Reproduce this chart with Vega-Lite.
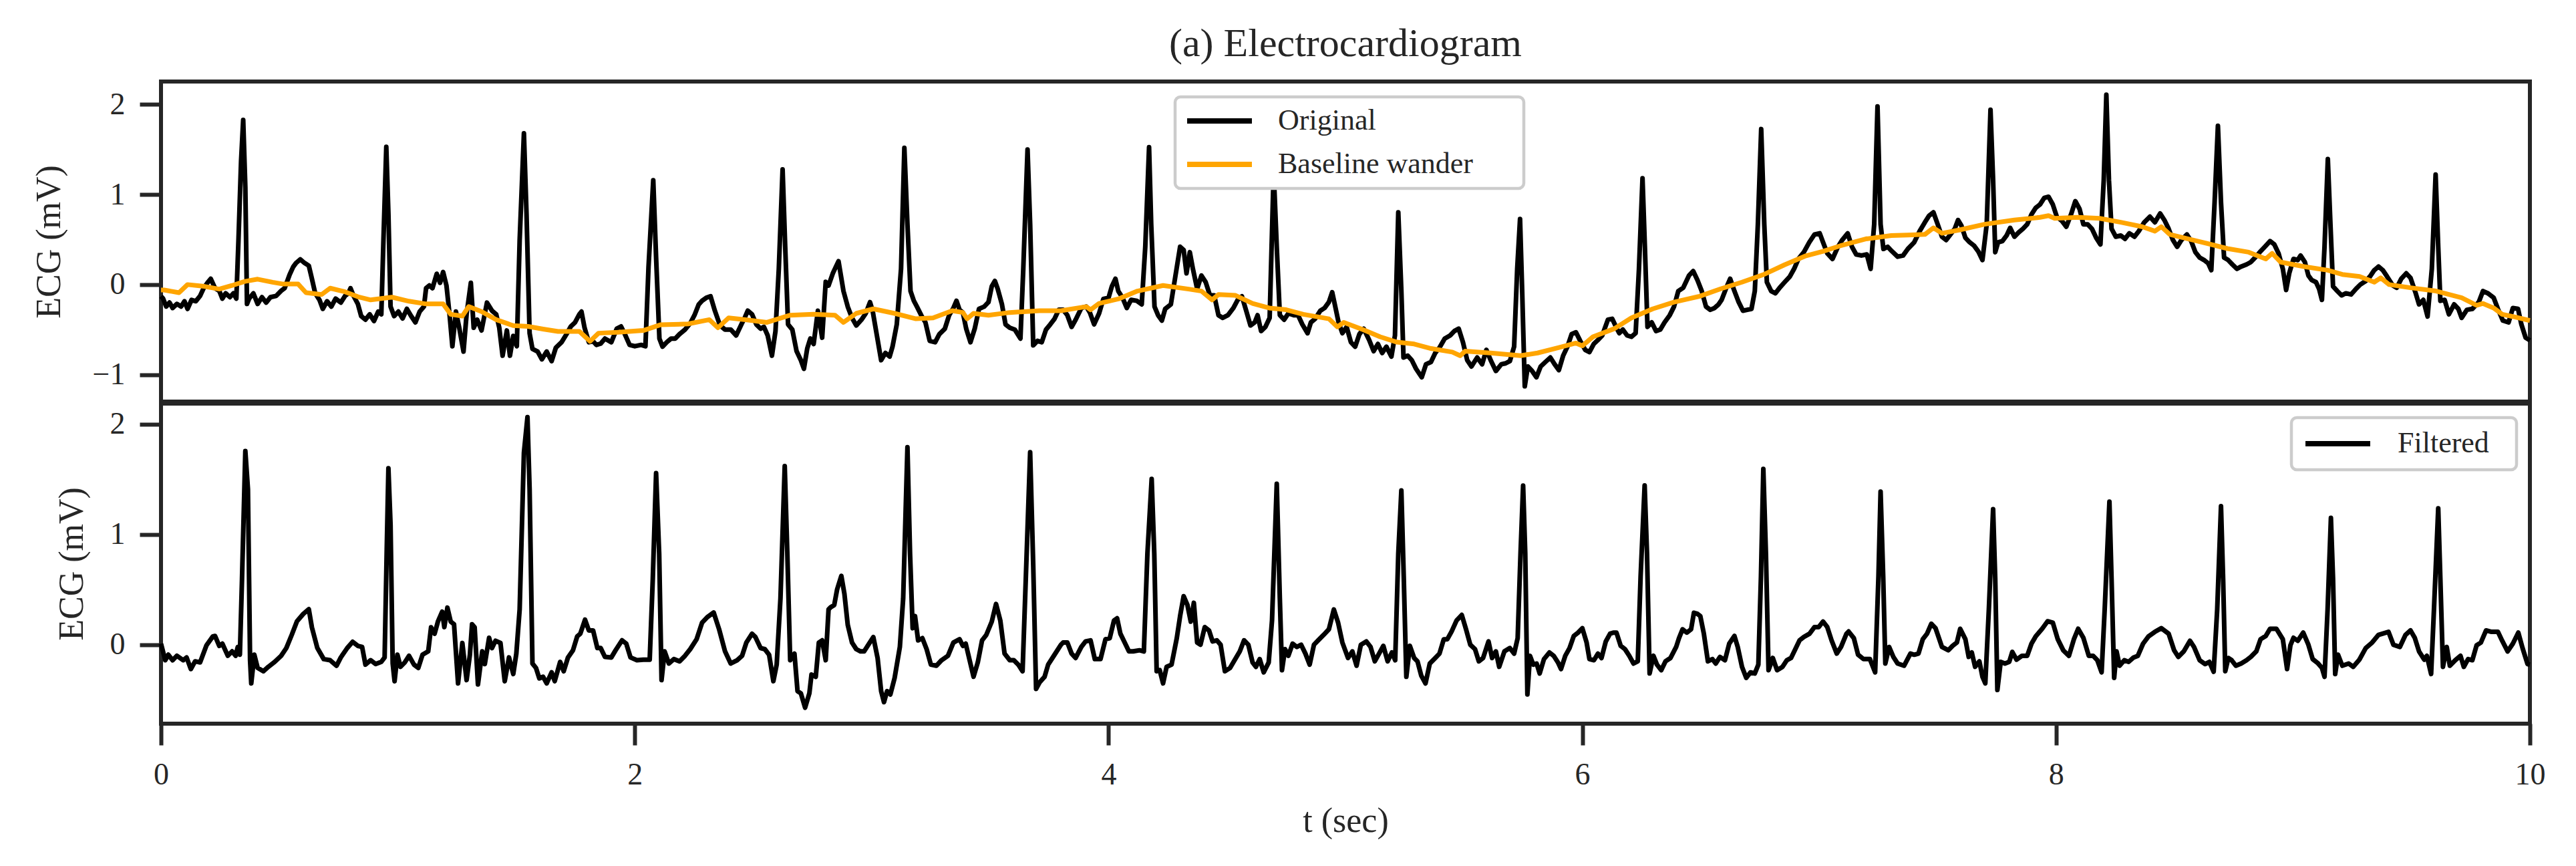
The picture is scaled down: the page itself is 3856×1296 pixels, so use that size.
{
  "$schema": "https://vega.github.io/schema/vega-lite/v6.json",
  "background": "white",
  "padding": {"left": 44, "top": 33, "right": 40, "bottom": 0},
  "spacing": -3,
  "datasets": {
    "original": [
      {"t":0,"v":-0.13},{"t":0.009,"v":-0.156},{"t":0.022,"v":-0.244},{"t":0.036,"v":-0.2},{"t":0.049,"v":-0.26},{"t":0.067,"v":-0.215},{"t":0.085,"v":-0.244},{"t":0.099,"v":-0.185},{"t":0.112,"v":-0.27},{"t":0.129,"v":-0.17},{"t":0.147,"v":-0.185},{"t":0.165,"v":-0.126},{"t":0.18,"v":-0.04},{"t":0.196,"v":0.02},{"t":0.21,"v":0.065},{"t":0.228,"v":-0.04},{"t":0.246,"v":-0.07},{"t":0.259,"v":-0.156},{"t":0.273,"v":-0.097},{"t":0.291,"v":-0.14},{"t":0.306,"v":-0.097},{"t":0.318,"v":-0.156},{"t":0.327,"v":0.49},{"t":0.338,"v":1.37},{"t":0.347,"v":1.83},{"t":0.356,"v":1.08},{"t":0.363,"v":-0.215},{"t":0.372,"v":-0.156},{"t":0.39,"v":-0.097},{"t":0.408,"v":-0.215},{"t":0.426,"v":-0.14},{"t":0.444,"v":-0.2},{"t":0.462,"v":-0.14},{"t":0.486,"v":-0.126},{"t":0.507,"v":-0.07},{"t":0.522,"v":-0.04},{"t":0.543,"v":0.11},{"t":0.558,"v":0.197},{"t":0.57,"v":0.24},{"t":0.588,"v":0.28},{"t":0.606,"v":0.24},{"t":0.624,"v":0.21},{"t":0.637,"v":0.065},{"t":0.651,"v":-0.097},{"t":0.669,"v":-0.17},{"t":0.683,"v":-0.27},{"t":0.701,"v":-0.185},{"t":0.719,"v":-0.244},{"t":0.737,"v":-0.156},{"t":0.759,"v":-0.2},{"t":0.777,"v":-0.126},{"t":0.791,"v":-0.097},{"t":0.8,"v":-0.04},{"t":0.813,"v":-0.126},{"t":0.831,"v":-0.215},{"t":0.845,"v":-0.35},{"t":0.863,"v":-0.39},{"t":0.881,"v":-0.33},{"t":0.899,"v":-0.405},{"t":0.917,"v":-0.3},{"t":0.93,"v":-0.33},{"t":0.939,"v":0.49},{"t":0.951,"v":1.53},{"t":0.96,"v":0.785},{"t":0.969,"v":-0.244},{"t":0.984,"v":-0.35},{"t":1.002,"v":-0.3},{"t":1.02,"v":-0.376},{"t":1.038,"v":-0.27},{"t":1.056,"v":-0.35},{"t":1.074,"v":-0.42},{"t":1.092,"v":-0.3},{"t":1.11,"v":-0.244},{"t":1.119,"v":-0.04},{"t":1.133,"v":-0.01},{"t":1.146,"v":-0.04},{"t":1.164,"v":0.12},{"t":1.178,"v":0.02},{"t":1.191,"v":0.14},{"t":1.205,"v":-0.01},{"t":1.218,"v":-0.33},{"t":1.23,"v":-0.685},{"t":1.245,"v":-0.3},{"t":1.259,"v":-0.48},{"t":1.277,"v":-0.744},{"t":1.29,"v":-0.33},{"t":1.308,"v":0.02},{"t":1.32,"v":-0.48},{"t":1.335,"v":-0.39},{"t":1.353,"v":-0.51},{"t":1.376,"v":-0.2},{"t":1.397,"v":-0.29},{"t":1.415,"v":-0.33},{"t":1.428,"v":-0.48},{"t":1.442,"v":-0.79},{"t":1.46,"v":-0.51},{"t":1.473,"v":-0.79},{"t":1.487,"v":-0.57},{"t":1.502,"v":-0.685},{"t":1.514,"v":0.49},{"t":1.532,"v":1.68},{"t":1.543,"v":0.785},{"t":1.556,"v":-0.54},{"t":1.568,"v":-0.715},{"t":1.59,"v":-0.744},{"t":1.608,"v":-0.83},{"t":1.628,"v":-0.744},{"t":1.649,"v":-0.85},{"t":1.667,"v":-0.7},{"t":1.691,"v":-0.64},{"t":1.712,"v":-0.55},{"t":1.73,"v":-0.465},{"t":1.748,"v":-0.42},{"t":1.766,"v":-0.33},{"t":1.775,"v":-0.3},{"t":1.788,"v":-0.48},{"t":1.806,"v":-0.64},{"t":1.824,"v":-0.63},{"t":1.838,"v":-0.67},{"t":1.856,"v":-0.656},{"t":1.874,"v":-0.6},{"t":1.901,"v":-0.64},{"t":1.924,"v":-0.49},{"t":1.942,"v":-0.465},{"t":1.958,"v":-0.55},{"t":1.978,"v":-0.67},{"t":2.0,"v":-0.685},{"t":2.027,"v":-0.67},{"t":2.045,"v":-0.685},{"t":2.058,"v":0.197},{"t":2.078,"v":1.16},{"t":2.09,"v":0.3},
      {"t":2.104,"v":-0.6},{"t":2.117,"v":-0.69},{"t":2.135,"v":-0.64},{"t":2.153,"v":-0.6},{"t":2.171,"v":-0.6},{"t":2.189,"v":-0.55},{"t":2.212,"v":-0.5},{"t":2.234,"v":-0.43},{"t":2.252,"v":-0.34},{"t":2.27,"v":-0.22},{"t":2.284,"v":-0.18},{"t":2.302,"v":-0.146},{"t":2.32,"v":-0.13},{"t":2.338,"v":-0.29},{"t":2.36,"v":-0.454},{"t":2.381,"v":-0.5},{"t":2.405,"v":-0.5},{"t":2.428,"v":-0.565},{"t":2.45,"v":-0.442},{"t":2.464,"v":-0.37},{"t":2.477,"v":-0.29},{"t":2.495,"v":-0.33},{"t":2.513,"v":-0.442},{"t":2.531,"v":-0.49},{"t":2.545,"v":-0.47},{"t":2.561,"v":-0.565},{"t":2.579,"v":-0.79},{"t":2.594,"v":-0.516},{"t":2.608,"v":0.175},{"t":2.624,"v":1.279},{"t":2.635,"v":0.42},{"t":2.647,"v":-0.442},{"t":2.665,"v":-0.5},{"t":2.683,"v":-0.74},{"t":2.701,"v":-0.84},{"t":2.714,"v":-0.935},{"t":2.728,"v":-0.71},{"t":2.741,"v":-0.6},{"t":2.755,"v":-0.66},{"t":2.773,"v":-0.29},{"t":2.791,"v":-0.59},{"t":2.806,"v":0.03},{"t":2.818,"v":-0.01},{"t":2.836,"v":0.125},{"t":2.86,"v":0.26},{"t":2.881,"v":-0.072},{"t":2.899,"v":-0.245},{"t":2.917,"v":-0.37},{"t":2.935,"v":-0.454},{"t":2.957,"v":-0.39},{"t":2.975,"v":-0.32},{"t":2.993,"v":-0.195},{"t":3.004,"v":-0.29},{"t":3.022,"v":-0.565},{"t":3.04,"v":-0.84},{"t":3.058,"v":-0.76},{"t":3.076,"v":-0.8},{"t":3.088,"v":-0.69},{"t":3.106,"v":-0.442},{"t":3.124,"v":0.175},{"t":3.138,"v":1.519},{"t":3.151,"v":0.67},{"t":3.164,"v":-0.072},{"t":3.178,"v":-0.18},{"t":3.191,"v":-0.245},{"t":3.209,"v":-0.34},{"t":3.227,"v":-0.42},{"t":3.245,"v":-0.625},{"t":3.268,"v":-0.64},{"t":3.286,"v":-0.55},{"t":3.309,"v":-0.49},{"t":3.327,"v":-0.34},{"t":3.345,"v":-0.26},{"t":3.358,"v":-0.18},{"t":3.371,"v":-0.28},{"t":3.385,"v":-0.31},{"t":3.399,"v":-0.49},{"t":3.417,"v":-0.64},{"t":3.435,"v":-0.49},{"t":3.453,"v":-0.27},{"t":3.475,"v":-0.245},{"t":3.493,"v":-0.195},{"t":3.507,"v":-0.02},{"t":3.52,"v":0.04},{"t":3.532,"v":-0.047},{"t":3.55,"v":-0.22},{"t":3.565,"v":-0.442},{"t":3.583,"v":-0.48},{"t":3.604,"v":-0.5},{"t":3.628,"v":-0.6},{"t":3.64,"v":0.175},{"t":3.658,"v":1.501},{"t":3.669,"v":0.67},{"t":3.682,"v":-0.675},{"t":3.7,"v":-0.625},{"t":3.718,"v":-0.64},{"t":3.736,"v":-0.5},{"t":3.754,"v":-0.442},{"t":3.772,"v":-0.38},{"t":3.79,"v":-0.28},{"t":3.808,"v":-0.28},{"t":3.826,"v":-0.34},{"t":3.844,"v":-0.47},{"t":3.861,"v":-0.39},{"t":3.885,"v":-0.26},{"t":3.906,"v":-0.245},{"t":3.921,"v":-0.31},{"t":3.939,"v":-0.442},{"t":3.96,"v":-0.32},{"t":3.978,"v":-0.16},{"t":4.0,"v":-0.146},{"t":4.014,"v":-0.02},{"t":4.029,"v":0.065},{"t":4.041,"v":-0.072},{"t":4.059,"v":-0.146},{"t":4.077,"v":-0.26},{"t":4.095,"v":-0.17},{"t":4.119,"v":-0.18},{"t":4.14,"v":-0.22},{"t":4.155,"v":0.42},{"t":4.171,"v":1.526},{"t":4.18,"v":0.67},{"t":4.194,"v":-0.245},{"t":4.209,"v":-0.34},{"t":4.225,"v":-0.4},{"t":4.239,"v":-0.27},{"t":4.263,"v":-0.22},{"t":4.281,"v":0.075},{"t":4.302,"v":0.42},{"t":4.317,"v":0.385},{"t":4.329,"v":0.125},{"t":4.343,"v":0.36},{"t":4.356,"v":0.175},{"t":4.374,"v":-0.047},{"t":4.392,"v":0.1},{"t":4.41,"v":0.027},{"t":4.428,"v":-0.12},{"t":4.446,"v":-0.12},{"t":4.464,"v":-0.34},{"t":4.482,"v":-0.37},{"t":4.504,"v":-0.34},{"t":4.527,"v":-0.26},{"t":4.545,"v":-0.17},{"t":4.563,"v":-0.13},{"t":4.581,"v":-0.29},{"t":4.599,"v":-0.454},{"t":4.617,"v":-0.42},{"t":4.629,"v":-0.34},{"t":4.644,"v":-0.516},{"t":4.662,"v":-0.47},{"t":4.68,"v":-0.37},{"t":4.697,"v":1.26},
      {"t":4.71,"v":0.42},{"t":4.723,"v":-0.34},{"t":4.741,"v":-0.39},{"t":4.759,"v":-0.32},{"t":4.782,"v":-0.34},{"t":4.8,"v":-0.34},{"t":4.818,"v":-0.442},{"t":4.84,"v":-0.54},{"t":4.854,"v":-0.42},{"t":4.872,"v":-0.38},{"t":4.894,"v":-0.29},{"t":4.912,"v":-0.26},{"t":4.93,"v":-0.195},{"t":4.944,"v":-0.085},{"t":4.957,"v":-0.245},{"t":4.971,"v":-0.42},{"t":4.987,"v":-0.54},{"t":5.005,"v":-0.47},{"t":5.023,"v":-0.64},{"t":5.041,"v":-0.69},{"t":5.059,"v":-0.55},{"t":5.077,"v":-0.49},{"t":5.1,"v":-0.615},{"t":5.119,"v":-0.74},{"t":5.137,"v":-0.66},{"t":5.155,"v":-0.76},{"t":5.173,"v":-0.69},{"t":5.194,"v":-0.8},{"t":5.209,"v":-0.565},{"t":5.223,"v":0.803},{"t":5.236,"v":-0.072},{"t":5.245,"v":-0.81},{"t":5.263,"v":-0.79},{"t":5.28,"v":-0.84},{"t":5.298,"v":-0.935},{"t":5.322,"v":-1.03},{"t":5.34,"v":-0.885},{"t":5.361,"v":-0.86},{"t":5.379,"v":-0.76},{"t":5.397,"v":-0.7},{"t":5.419,"v":-0.6},{"t":5.442,"v":-0.565},{"t":5.46,"v":-0.516},{"t":5.478,"v":-0.49},{"t":5.496,"v":-0.64},{"t":5.514,"v":-0.84},{"t":5.532,"v":-0.91},{"t":5.556,"v":-0.81},{"t":5.577,"v":-0.885},{"t":5.595,"v":-0.725},{"t":5.613,"v":-0.84},{"t":5.635,"v":-0.96},{"t":5.658,"v":-0.885},{"t":5.676,"v":-0.875},{"t":5.694,"v":-0.85},{"t":5.712,"v":-0.69},{"t":5.725,"v":0.175},{"t":5.737,"v":0.729},{"t":5.746,"v":-0.072},{"t":5.757,"v":-1.13},{"t":5.77,"v":-0.91},{"t":5.788,"v":-0.96},{"t":5.806,"v":-1.03},{"t":5.824,"v":-0.91},{"t":5.844,"v":-0.86},{"t":5.865,"v":-0.81},{"t":5.883,"v":-0.885},{"t":5.901,"v":-0.95},{"t":5.919,"v":-0.79},{"t":5.937,"v":-0.69},{"t":5.955,"v":-0.55},{"t":5.973,"v":-0.53},{"t":5.991,"v":-0.625},{"t":6.012,"v":-0.725},{"t":6.03,"v":-0.75},{"t":6.048,"v":-0.66},{"t":6.066,"v":-0.615},{"t":6.084,"v":-0.565},{"t":6.108,"v":-0.39},{"t":6.126,"v":-0.38},{"t":6.144,"v":-0.48},{"t":6.156,"v":-0.54},{"t":6.171,"v":-0.5},{"t":6.189,"v":-0.565},{"t":6.207,"v":-0.58},{"t":6.225,"v":-0.54},{"t":6.239,"v":0.175},{"t":6.254,"v":1.181},{"t":6.264,"v":0.42},{"t":6.275,"v":-0.47},{"t":6.293,"v":-0.42},{"t":6.311,"v":-0.516},{"t":6.329,"v":-0.5},{"t":6.347,"v":-0.42},{"t":6.369,"v":-0.34},{"t":6.387,"v":-0.245},{"t":6.405,"v":-0.072},{"t":6.426,"v":-0.035},{"t":6.45,"v":0.1},{"t":6.468,"v":0.15},{"t":6.486,"v":0.05},{"t":6.504,"v":-0.072},{"t":6.522,"v":-0.245},{"t":6.54,"v":-0.28},{"t":6.558,"v":-0.26},{"t":6.575,"v":-0.22},{"t":6.588,"v":-0.17},{"t":6.606,"v":-0.047},{"t":6.624,"v":0.065},{"t":6.642,"v":-0.072},{"t":6.66,"v":-0.195},{"t":6.678,"v":-0.29},{"t":6.696,"v":-0.28},{"t":6.714,"v":-0.27},{"t":6.728,"v":-0.072},{"t":6.741,"v":0.67},{"t":6.755,"v":1.728},{"t":6.768,"v":0.67},{"t":6.779,"v":0.027},{"t":6.797,"v":-0.072},{"t":6.815,"v":-0.097},{"t":6.833,"v":-0.035},{"t":6.854,"v":0.027},{"t":6.876,"v":0.09},{"t":6.894,"v":0.175},{"t":6.912,"v":0.285},{"t":6.935,"v":0.36},{"t":6.958,"v":0.47},{"t":6.98,"v":0.557},{"t":7.002,"v":0.57},{"t":7.016,"v":0.47},{"t":7.034,"v":0.347},{"t":7.056,"v":0.285},{"t":7.079,"v":0.42},{"t":7.097,"v":0.495},{"t":7.12,"v":0.57},{"t":7.138,"v":0.42},{"t":7.156,"v":0.335},{"t":7.178,"v":0.323},{"t":7.201,"v":0.335},{"t":7.217,"v":0.175},{"t":7.232,"v":0.67},{"t":7.246,"v":1.98},{"t":7.259,"v":0.67},{"t":7.271,"v":0.396},{"t":7.289,"v":0.42},{"t":7.307,"v":0.37},{"t":7.331,"v":0.31},{"t":7.354,"v":0.323},
      {"t":7.374,"v":0.396},{"t":7.401,"v":0.47},{"t":7.424,"v":0.594},{"t":7.446,"v":0.692},{"t":7.464,"v":0.766},{"t":7.482,"v":0.803},{"t":7.5,"v":0.67},{"t":7.518,"v":0.532},{"t":7.536,"v":0.495},{"t":7.554,"v":0.557},{"t":7.572,"v":0.62},{"t":7.586,"v":0.717},{"t":7.6,"v":0.655},{"t":7.617,"v":0.52},{"t":7.635,"v":0.47},{"t":7.653,"v":0.434},{"t":7.671,"v":0.37},{"t":7.689,"v":0.273},{"t":7.707,"v":0.67},{"t":7.723,"v":1.943},{"t":7.734,"v":1.16},{"t":7.743,"v":0.36},{"t":7.755,"v":0.47},{"t":7.773,"v":0.483},{"t":7.791,"v":0.545},{"t":7.806,"v":0.63},{"t":7.824,"v":0.532},{"t":7.842,"v":0.58},{"t":7.86,"v":0.62},{"t":7.878,"v":0.67},{"t":7.896,"v":0.78},{"t":7.914,"v":0.853},{"t":7.932,"v":0.89},{"t":7.95,"v":0.964},{"t":7.968,"v":0.976},{"t":7.986,"v":0.89},{"t":8.003,"v":0.754},{"t":8.025,"v":0.705},{"t":8.043,"v":0.643},{"t":8.063,"v":0.78},{"t":8.081,"v":0.927},{"t":8.099,"v":0.84},{"t":8.115,"v":0.67},{"t":8.133,"v":0.67},{"t":8.151,"v":0.62},{"t":8.169,"v":0.52},{"t":8.187,"v":0.446},{"t":8.201,"v":1.16},{"t":8.212,"v":2.11},{"t":8.223,"v":1.16},{"t":8.234,"v":0.62},{"t":8.252,"v":0.532},{"t":8.273,"v":0.545},{"t":8.291,"v":0.508},{"t":8.309,"v":0.57},{"t":8.331,"v":0.532},{"t":8.349,"v":0.594},{"t":8.372,"v":0.692},{"t":8.396,"v":0.754},{"t":8.417,"v":0.692},{"t":8.439,"v":0.79},{"t":8.457,"v":0.717},{"t":8.475,"v":0.62},{"t":8.493,"v":0.495},{"t":8.511,"v":0.42},{"t":8.529,"v":0.495},{"t":8.552,"v":0.557},{"t":8.57,"v":0.483},{"t":8.588,"v":0.36},{"t":8.606,"v":0.3},{"t":8.624,"v":0.273},{"t":8.642,"v":0.236},{"t":8.655,"v":0.16},{"t":8.669,"v":0.914},{"t":8.683,"v":1.765},{"t":8.696,"v":0.914},{"t":8.709,"v":0.3},{"t":8.726,"v":0.273},{"t":8.744,"v":0.224},{"t":8.763,"v":0.175},{"t":8.781,"v":0.2},{"t":8.804,"v":0.224},{"t":8.822,"v":0.25},{"t":8.84,"v":0.3},{"t":8.863,"v":0.37},{"t":8.881,"v":0.42},{"t":8.903,"v":0.483},{"t":8.921,"v":0.446},{"t":8.939,"v":0.347},{"t":8.957,"v":0.175},{"t":8.971,"v":-0.06},{"t":8.984,"v":0.125},{"t":9.002,"v":0.285},{"t":9.02,"v":0.273},{"t":9.032,"v":0.323},{"t":9.05,"v":0.25},{"t":9.065,"v":0.1},{"t":9.079,"v":0.05},{"t":9.097,"v":0.027},{"t":9.11,"v":-0.047},{"t":9.122,"v":-0.17},{"t":9.133,"v":0.42},{"t":9.147,"v":1.395},{"t":9.158,"v":0.67},{"t":9.169,"v":-0.02},{"t":9.187,"v":-0.072},{"t":9.205,"v":-0.12},{"t":9.223,"v":-0.097},{"t":9.245,"v":-0.11},{"t":9.266,"v":-0.047},{"t":9.284,"v":0},{"t":9.307,"v":0.04},{"t":9.325,"v":0.09},{"t":9.343,"v":0.16},{"t":9.361,"v":0.2},{"t":9.379,"v":0.16},{"t":9.397,"v":0.09},{"t":9.421,"v":-0.01},{"t":9.438,"v":-0.035},{"t":9.457,"v":0.065},{"t":9.478,"v":0.125},{"t":9.496,"v":0.075},{"t":9.518,"v":-0.097},{"t":9.532,"v":-0.22},{"t":9.55,"v":-0.17},{"t":9.568,"v":-0.355},{"t":9.586,"v":0.175},{"t":9.602,"v":1.223},{"t":9.613,"v":0.42},{"t":9.622,"v":-0.18},{"t":9.64,"v":-0.17},{"t":9.658,"v":-0.33},{"t":9.68,"v":-0.22},{"t":9.698,"v":-0.27},{"t":9.712,"v":-0.37},{"t":9.734,"v":-0.28},{"t":9.757,"v":-0.27},{"t":9.784,"v":-0.195},{"t":9.802,"v":-0.072},{"t":9.823,"v":-0.097},{"t":9.847,"v":-0.146},{"t":9.865,"v":-0.27},{"t":9.886,"v":-0.4},{"t":9.91,"v":-0.42},{"t":9.928,"v":-0.26},{"t":9.95,"v":-0.27},{"t":9.964,"v":-0.442},{"t":9.982,"v":-0.59},{"t":10.0,"v":-0.62}
    ],
    "baseline": [
      {"t":0,"v":-0.06},{"t":0.013,"v":-0.06},{"t":0.076,"v":-0.09},{"t":0.112,"v":0.0},{"t":0.183,"v":-0.02},{"t":0.246,"v":-0.05},{"t":0.3,"v":-0.01},{"t":0.354,"v":0.035},{"t":0.408,"v":0.06},{"t":0.471,"v":0.026},{"t":0.516,"v":0.006},{"t":0.579,"v":0.006},{"t":0.612,"v":-0.09},{"t":0.678,"v":-0.11},{"t":0.714,"v":-0.04},{"t":0.777,"v":-0.08},{"t":0.831,"v":-0.135},{"t":0.885,"v":-0.17},{"t":0.975,"v":-0.14},{"t":1.047,"v":-0.185},{"t":1.119,"v":-0.215},{"t":1.191,"v":-0.215},{"t":1.223,"v":-0.33},{"t":1.272,"v":-0.35},{"t":1.299,"v":-0.244},{"t":1.353,"v":-0.3},{"t":1.415,"v":-0.39},{"t":1.487,"v":-0.456},{"t":1.55,"v":-0.465},{"t":1.613,"v":-0.494},{"t":1.676,"v":-0.52},{"t":1.766,"v":-0.52},{"t":1.811,"v":-0.63},{"t":1.847,"v":-0.54},{"t":1.928,"v":-0.53},{"t":2.036,"v":-0.51},{"t":2.108,"v":-0.447},{"t":2.225,"v":-0.437},{"t":2.315,"v":-0.39},{"t":2.351,"v":-0.48},{"t":2.396,"v":-0.37},{"t":2.468,"v":-0.39},{"t":2.558,"v":-0.42},{"t":2.656,"v":-0.34},{"t":2.755,"v":-0.33},{"t":2.845,"v":-0.34},{"t":2.881,"v":-0.42},{"t":2.935,"v":-0.32},{"t":3.007,"v":-0.27},{"t":3.097,"v":-0.32},{"t":3.187,"v":-0.38},{"t":3.259,"v":-0.37},{"t":3.34,"v":-0.29},{"t":3.385,"v":-0.31},{"t":3.403,"v":-0.38},{"t":3.43,"v":-0.32},{"t":3.493,"v":-0.34},{"t":3.583,"v":-0.31},{"t":3.709,"v":-0.29},{"t":3.799,"v":-0.29},{"t":3.906,"v":-0.245},{"t":3.924,"v":-0.28},{"t":3.96,"v":-0.21},{"t":4.041,"v":-0.16},{"t":4.122,"v":-0.072},{"t":4.23,"v":-0.01},{"t":4.338,"v":-0.05},{"t":4.392,"v":-0.072},{"t":4.437,"v":-0.17},{"t":4.464,"v":-0.11},{"t":4.536,"v":-0.12},{"t":4.608,"v":-0.21},{"t":4.678,"v":-0.26},{"t":4.75,"v":-0.28},{"t":4.822,"v":-0.33},{"t":4.93,"v":-0.38},{"t":4.966,"v":-0.47},{"t":4.993,"v":-0.42},{"t":5.074,"v":-0.5},{"t":5.146,"v":-0.58},{"t":5.218,"v":-0.64},{"t":5.29,"v":-0.66},{"t":5.361,"v":-0.71},{"t":5.451,"v":-0.75},{"t":5.484,"v":-0.79},{"t":5.505,"v":-0.74},{"t":5.613,"v":-0.76},{"t":5.739,"v":-0.79},{"t":5.811,"v":-0.76},{"t":5.901,"v":-0.7},{"t":5.973,"v":-0.65},{"t":6.0,"v":-0.68},{"t":6.045,"v":-0.58},{"t":6.135,"v":-0.49},{"t":6.207,"v":-0.37},{"t":6.297,"v":-0.27},{"t":6.387,"v":-0.195},{"t":6.495,"v":-0.13},{"t":6.584,"v":-0.047},{"t":6.674,"v":0.027},{"t":6.764,"v":0.11},{"t":6.854,"v":0.22},{"t":6.944,"v":0.32},{"t":7.016,"v":0.37},{"t":7.088,"v":0.43},{"t":7.196,"v":0.507},{"t":7.304,"v":0.545},{"t":7.374,"v":0.55},{"t":7.446,"v":0.557},{"t":7.482,"v":0.63},{"t":7.518,"v":0.57},{"t":7.59,"v":0.606},{"t":7.698,"v":0.67},{"t":7.824,"v":0.717},{"t":7.932,"v":0.747},{"t":7.968,"v":0.766},{"t":7.994,"v":0.736},{"t":8.093,"v":0.747},{"t":8.183,"v":0.736},{"t":8.273,"v":0.692},{"t":8.363,"v":0.643},{"t":8.417,"v":0.594},{"t":8.444,"v":0.643},{"t":8.48,"v":0.557},{"t":8.597,"v":0.483},{"t":8.723,"v":0.4},{"t":8.813,"v":0.36},{"t":8.885,"v":0.285},{"t":8.912,"v":0.347},{"t":8.948,"v":0.25},{"t":9.047,"v":0.2},{"t":9.146,"v":0.16},{"t":9.208,"v":0.113},{"t":9.281,"v":0.09},{"t":9.343,"v":0.027},{"t":9.37,"v":0.075},{"t":9.406,"v":0.0},{"t":9.496,"v":-0.035},{"t":9.604,"v":-0.072},{"t":9.712,"v":-0.146},{"t":9.775,"v":-0.23},{"t":9.802,"v":-0.21},{"t":9.847,"v":-0.26},{"t":9.883,"v":-0.33},{"t":9.928,"v":-0.355},{"t":10.0,"v":-0.4}
    ],
    "filtered": [
      {"t":0,"v":0.01},{"t":0.018,"v":-0.14},{"t":0.031,"v":-0.09},{"t":0.049,"v":-0.14},{"t":0.067,"v":-0.1},{"t":0.094,"v":-0.14},{"t":0.108,"v":-0.115},{"t":0.126,"v":-0.22},{"t":0.144,"v":-0.15},{"t":0.165,"v":-0.16},{"t":0.192,"v":-0.005},{"t":0.219,"v":0.076},{"t":0.228,"v":0.08},{"t":0.246,"v":-0.01},{"t":0.259,"v":0.01},{"t":0.282,"v":-0.1},{"t":0.3,"v":-0.06},{"t":0.315,"v":-0.1},{"t":0.324,"v":-0.02},{"t":0.333,"v":-0.09},{"t":0.342,"v":0.595},{"t":0.356,"v":1.755},{"t":0.367,"v":1.41},{"t":0.376,"v":-0.14},{"t":0.381,"v":-0.35},{"t":0.394,"v":-0.09},{"t":0.408,"v":-0.21},{"t":0.432,"v":-0.24},{"t":0.453,"v":-0.2},{"t":0.48,"v":-0.155},{"t":0.507,"v":-0.1},{"t":0.529,"v":-0.03},{"t":0.552,"v":0.09},{"t":0.574,"v":0.213},{"t":0.601,"v":0.28},{"t":0.624,"v":0.322},{"t":0.637,"v":0.158},{"t":0.66,"v":-0.03},{"t":0.687,"v":-0.13},{"t":0.714,"v":-0.14},{"t":0.741,"v":-0.19},{"t":0.759,"v":-0.115},{"t":0.786,"v":-0.03},{"t":0.809,"v":0.027},{"t":0.831,"v":-0.01},{"t":0.849,"v":-0.02},{"t":0.863,"v":-0.18},{"t":0.885,"v":-0.14},{"t":0.906,"v":-0.175},{"t":0.93,"v":-0.155},{"t":0.944,"v":-0.115},{"t":0.953,"v":0.868},{"t":0.96,"v":1.599},{"t":0.969,"v":1.086},{"t":0.978,"v":-0.17},{"t":0.986,"v":-0.33},{"t":0.998,"v":-0.09},{"t":1.011,"v":-0.2},{"t":1.029,"v":-0.16},{"t":1.047,"v":-0.1},{"t":1.068,"v":-0.18},{"t":1.086,"v":-0.21},{"t":1.104,"v":-0.09},{"t":1.128,"v":-0.06},{"t":1.14,"v":0.158},{"t":1.155,"v":0.1},{"t":1.169,"v":0.21},{"t":1.187,"v":0.3},{"t":1.196,"v":0.16},{"t":1.209,"v":0.336},{"t":1.223,"v":0.21},{"t":1.237,"v":0.186},{"t":1.254,"v":-0.35},{"t":1.272,"v":0.016},{"t":1.29,"v":-0.32},{"t":1.304,"v":-0.09},{"t":1.313,"v":0.186},{"t":1.324,"v":0.158},{"t":1.338,"v":-0.36},{"t":1.356,"v":-0.06},{"t":1.367,"v":-0.175},{"t":1.385,"v":0.063},{"t":1.397,"v":-0.03},{"t":1.412,"v":0.036},{"t":1.433,"v":0.016},{"t":1.451,"v":-0.33},{"t":1.469,"v":-0.115},{"t":1.487,"v":-0.265},{"t":1.5,"v":-0.08},{"t":1.514,"v":0.32},{"t":1.532,"v":1.74},{"t":1.547,"v":2.063},{"t":1.556,"v":1.41},{"t":1.568,"v":-0.17},{"t":1.583,"v":-0.21},{"t":1.597,"v":-0.305},{"t":1.613,"v":-0.29},{"t":1.628,"v":-0.35},{"t":1.649,"v":-0.25},{"t":1.662,"v":-0.33},{"t":1.685,"v":-0.155},{"t":1.7,"v":-0.24},{"t":1.718,"v":-0.115},{"t":1.739,"v":-0.05},{"t":1.757,"v":0.076},{"t":1.77,"v":0.1},{"t":1.79,"v":0.227},{"t":1.806,"v":0.13},{"t":1.824,"v":0.13},{"t":1.842,"v":-0.03},{"t":1.856,"v":-0.03},{"t":1.874,"v":-0.11},{"t":1.901,"v":-0.115},{"t":1.919,"v":-0.05},{"t":1.946,"v":0.04},{"t":1.964,"v":0.01},{"t":1.982,"v":-0.115},{"t":2.009,"v":-0.14},{"t":2.036,"v":-0.135},{"t":2.063,"v":-0.135},{"t":2.076,"v":0.595},{"t":2.09,"v":1.555},{"t":2.103,"v":0.825},{"t":2.113,"v":-0.32},
      {"t":2.126,"v":-0.06},{"t":2.144,"v":-0.17},{"t":2.165,"v":-0.13},{"t":2.189,"v":-0.15},{"t":2.212,"v":-0.1},{"t":2.234,"v":-0.04},{"t":2.261,"v":0.05},{"t":2.284,"v":0.2},{"t":2.306,"v":0.25},{"t":2.333,"v":0.292},{"t":2.356,"v":0.14},{"t":2.381,"v":-0.06},{"t":2.405,"v":-0.17},{"t":2.432,"v":-0.14},{"t":2.453,"v":-0.1},{"t":2.471,"v":0.02},{"t":2.495,"v":0.1},{"t":2.509,"v":0.07},{"t":2.531,"v":-0.03},{"t":2.549,"v":-0.04},{"t":2.567,"v":-0.09},{"t":2.585,"v":-0.33},{"t":2.599,"v":-0.18},{"t":2.615,"v":0.42},{"t":2.633,"v":1.619},{"t":2.644,"v":0.825},{"t":2.656,"v":-0.14},{"t":2.674,"v":-0.08},{"t":2.687,"v":-0.42},{"t":2.701,"v":-0.44},{"t":2.719,"v":-0.57},{"t":2.737,"v":-0.44},{"t":2.746,"v":-0.27},{"t":2.764,"v":-0.29},{"t":2.777,"v":0.02},{"t":2.791,"v":0.04},{"t":2.806,"v":-0.14},{"t":2.818,"v":0.32},{"t":2.827,"v":0.34},{"t":2.842,"v":0.36},{"t":2.854,"v":0.5},{"t":2.872,"v":0.624},{"t":2.885,"v":0.46},{"t":2.899,"v":0.18},{"t":2.917,"v":0.02},{"t":2.935,"v":-0.04},{"t":2.953,"v":-0.06},{"t":2.968,"v":-0.06},{"t":2.986,"v":0.0},{"t":3.007,"v":0.07},{"t":3.025,"v":-0.12},{"t":3.04,"v":-0.42},{"t":3.052,"v":-0.52},{"t":3.065,"v":-0.42},{"t":3.079,"v":-0.45},{"t":3.097,"v":-0.3},{"t":3.119,"v":-0.02},{"t":3.133,"v":0.42},{"t":3.151,"v":1.79},{"t":3.162,"v":0.825},{"t":3.173,"v":0.15},{"t":3.183,"v":0.26},{"t":3.196,"v":0.04},{"t":3.214,"v":0.06},{"t":3.232,"v":-0.04},{"t":3.25,"v":-0.18},{"t":3.273,"v":-0.19},{"t":3.295,"v":-0.14},{"t":3.322,"v":-0.1},{"t":3.345,"v":0.02},{"t":3.371,"v":0.05},{"t":3.385,"v":-0.01},{"t":3.397,"v":0.01},{"t":3.43,"v":-0.29},{"t":3.448,"v":-0.16},{"t":3.466,"v":0.04},{"t":3.484,"v":0.09},{"t":3.507,"v":0.21},{"t":3.525,"v":0.37},{"t":3.543,"v":0.22},{"t":3.561,"v":-0.08},{"t":3.583,"v":-0.14},{"t":3.6,"v":-0.14},{"t":3.619,"v":-0.18},{"t":3.637,"v":-0.24},{"t":3.651,"v":0.62},{"t":3.669,"v":1.744},{"t":3.682,"v":0.72},{"t":3.694,"v":-0.4},{"t":3.709,"v":-0.34},{"t":3.73,"v":-0.29},{"t":3.745,"v":-0.18},{"t":3.772,"v":-0.09},{"t":3.799,"v":0.0},{"t":3.808,"v":0.02},{"t":3.826,"v":0.02},{"t":3.844,"v":-0.08},{"t":3.861,"v":-0.12},{"t":3.885,"v":-0.02},{"t":3.903,"v":0.03},{"t":3.924,"v":0.04},{"t":3.942,"v":-0.13},{"t":3.966,"v":-0.13},{"t":3.987,"v":0.05},{"t":4.005,"v":0.06},{"t":4.023,"v":0.22},{"t":4.036,"v":0.24},{"t":4.05,"v":0.1},{"t":4.068,"v":0.02},{"t":4.086,"v":-0.06},{"t":4.104,"v":-0.06},{"t":4.131,"v":-0.05},{"t":4.149,"v":-0.06},{"t":4.164,"v":0.825},{"t":4.182,"v":1.502},{"t":4.193,"v":0.825},{"t":4.203,"v":-0.24},{"t":4.216,"v":-0.23},{"t":4.23,"v":-0.35},{"t":4.245,"v":-0.2},{"t":4.266,"v":-0.18},{"t":4.288,"v":0.06},{"t":4.302,"v":0.26},{"t":4.317,"v":0.44},{"t":4.333,"v":0.36},{"t":4.347,"v":0.21},{"t":4.36,"v":0.38},{"t":4.374,"v":0.02},{"t":4.388,"v":0.0},{"t":4.406,"v":0.16},{"t":4.424,"v":0.13},{"t":4.439,"v":0.03},{"t":4.457,"v":0.04},{"t":4.473,"v":0.0},{"t":4.491,"v":-0.24},{"t":4.513,"v":-0.21},{"t":4.532,"v":-0.14},{"t":4.554,"v":-0.06},{"t":4.572,"v":0.04},{"t":4.59,"v":0.0},{"t":4.608,"v":-0.16},{"t":4.622,"v":-0.2},{"t":4.638,"v":-0.13},{"t":4.655,"v":-0.25},{"t":4.676,"v":-0.16},{"t":4.69,"v":0.22},{"t":4.71,"v":1.458},
      {"t":4.723,"v":0.42},{"t":4.732,"v":-0.23},{"t":4.745,"v":-0.04},{"t":4.759,"v":-0.1},{"t":4.777,"v":0.01},{"t":4.795,"v":-0.02},{"t":4.813,"v":0.0},{"t":4.831,"v":-0.08},{"t":4.849,"v":-0.18},{"t":4.867,"v":0.0},{"t":4.885,"v":0.04},{"t":4.908,"v":0.09},{"t":4.93,"v":0.14},{"t":4.951,"v":0.32},{"t":4.969,"v":0.2},{"t":4.987,"v":0.02},{"t":5.011,"v":-0.12},{"t":5.029,"v":-0.06},{"t":5.047,"v":-0.19},{"t":5.065,"v":0.0},{"t":5.088,"v":0.03},{"t":5.106,"v":-0.02},{"t":5.124,"v":-0.15},{"t":5.142,"v":-0.08},{"t":5.16,"v":-0.01},{"t":5.178,"v":-0.15},{"t":5.196,"v":-0.07},{"t":5.21,"v":-0.14},{"t":5.223,"v":0.825},{"t":5.236,"v":1.398},{"t":5.246,"v":0.62},{"t":5.257,"v":-0.29},{"t":5.272,"v":-0.01},{"t":5.29,"v":-0.12},{"t":5.304,"v":-0.15},{"t":5.32,"v":-0.28},{"t":5.338,"v":-0.35},{"t":5.356,"v":-0.17},{"t":5.379,"v":-0.12},{"t":5.397,"v":-0.08},{"t":5.415,"v":0.05},{"t":5.43,"v":0.05},{"t":5.448,"v":0.12},{"t":5.469,"v":0.22},{"t":5.491,"v":0.27},{"t":5.509,"v":0.14},{"t":5.527,"v":0.0},{"t":5.547,"v":-0.04},{"t":5.563,"v":-0.15},{"t":5.581,"v":-0.12},{"t":5.604,"v":0.03},{"t":5.619,"v":-0.12},{"t":5.635,"v":-0.06},{"t":5.649,"v":-0.2},{"t":5.671,"v":-0.06},{"t":5.694,"v":-0.03},{"t":5.712,"v":-0.08},{"t":5.727,"v":0.06},{"t":5.739,"v":0.825},{"t":5.75,"v":1.442},{"t":5.759,"v":0.825},{"t":5.768,"v":-0.45},{"t":5.779,"v":-0.1},{"t":5.793,"v":-0.18},{"t":5.807,"v":-0.17},{"t":5.82,"v":-0.26},{"t":5.838,"v":-0.13},{"t":5.861,"v":-0.07},{"t":5.879,"v":-0.1},{"t":5.897,"v":-0.16},{"t":5.91,"v":-0.22},{"t":5.928,"v":-0.1},{"t":5.946,"v":-0.03},{"t":5.964,"v":0.08},{"t":5.982,"v":0.11},{"t":6.0,"v":0.15},{"t":6.018,"v":0.02},{"t":6.03,"v":-0.13},{"t":6.049,"v":-0.14},{"t":6.066,"v":-0.08},{"t":6.081,"v":-0.12},{"t":6.099,"v":0.03},{"t":6.117,"v":0.1},{"t":6.131,"v":0.11},{"t":6.144,"v":0.11},{"t":6.162,"v":-0.01},{"t":6.18,"v":-0.04},{"t":6.198,"v":-0.1},{"t":6.216,"v":-0.17},{"t":6.234,"v":-0.15},{"t":6.246,"v":0.62},{"t":6.263,"v":1.444},{"t":6.273,"v":0.825},{"t":6.284,"v":-0.26},{"t":6.3,"v":-0.1},{"t":6.315,"v":-0.18},{"t":6.333,"v":-0.23},{"t":6.351,"v":-0.15},{"t":6.372,"v":-0.12},{"t":6.396,"v":-0.02},{"t":6.408,"v":0.06},{"t":6.423,"v":0.14},{"t":6.441,"v":0.11},{"t":6.459,"v":0.14},{"t":6.471,"v":0.29},{"t":6.486,"v":0.28},{"t":6.498,"v":0.26},{"t":6.513,"v":0.1},{"t":6.53,"v":-0.15},{"t":6.549,"v":-0.13},{"t":6.563,"v":-0.17},{"t":6.581,"v":-0.11},{"t":6.602,"v":-0.14},{"t":6.62,"v":0.01},{"t":6.642,"v":0.08},{"t":6.656,"v":-0.02},{"t":6.674,"v":-0.2},{"t":6.692,"v":-0.3},{"t":6.71,"v":-0.25},{"t":6.728,"v":-0.26},{"t":6.743,"v":-0.18},{"t":6.754,"v":0.62},{"t":6.764,"v":1.593},{"t":6.775,"v":0.825},{"t":6.786,"v":-0.23},{"t":6.804,"v":-0.12},{"t":6.822,"v":-0.23},{"t":6.845,"v":-0.2},{"t":6.863,"v":-0.14},{"t":6.881,"v":-0.12},{"t":6.899,"v":-0.04},{"t":6.917,"v":0.04},{"t":6.935,"v":0.07},{"t":6.959,"v":0.1},{"t":6.98,"v":0.16},{"t":6.998,"v":0.16},{"t":7.016,"v":0.21},{"t":7.034,"v":0.16},{"t":7.052,"v":0.04},{"t":7.074,"v":-0.08},{"t":7.092,"v":-0.02},{"t":7.115,"v":0.1},{"t":7.124,"v":0.12},{"t":7.146,"v":0.06},{"t":7.164,"v":-0.09},{"t":7.187,"v":-0.13},{"t":7.214,"v":-0.13},{"t":7.236,"v":-0.25},{"t":7.25,"v":0.62},{"t":7.259,"v":1.388},{"t":7.27,"v":0.62},{"t":7.279,"v":-0.17},{"t":7.295,"v":-0.02},{"t":7.313,"v":-0.11},{"t":7.331,"v":-0.17},{"t":7.358,"v":-0.19},{"t":7.385,"v":-0.08},
      {"t":7.401,"v":-0.09},{"t":7.419,"v":-0.08},{"t":7.437,"v":0.05},{"t":7.455,"v":0.1},{"t":7.473,"v":0.19},{"t":7.491,"v":0.15},{"t":7.518,"v":-0.02},{"t":7.545,"v":-0.05},{"t":7.563,"v":-0.01},{"t":7.581,"v":0.02},{"t":7.595,"v":0.145},{"t":7.617,"v":0.05},{"t":7.631,"v":-0.11},{"t":7.644,"v":-0.07},{"t":7.658,"v":-0.2},{"t":7.676,"v":-0.15},{"t":7.689,"v":-0.29},{"t":7.701,"v":-0.35},{"t":7.716,"v":0.32},{"t":7.734,"v":1.228},{"t":7.743,"v":0.595},{"t":7.752,"v":-0.41},{"t":7.766,"v":-0.155},{"t":7.784,"v":-0.17},{"t":7.802,"v":-0.155},{"t":7.815,"v":-0.065},{"t":7.833,"v":-0.135},{"t":7.856,"v":-0.1},{"t":7.878,"v":-0.1},{"t":7.896,"v":0.01},{"t":7.914,"v":0.076},{"t":7.941,"v":0.145},{"t":7.964,"v":0.213},{"t":7.986,"v":0.2},{"t":8.007,"v":0.05},{"t":8.03,"v":-0.05},{"t":8.054,"v":-0.1},{"t":8.075,"v":0.05},{"t":8.093,"v":0.145},{"t":8.115,"v":0.063},{"t":8.138,"v":-0.1},{"t":8.156,"v":-0.1},{"t":8.174,"v":-0.14},{"t":8.192,"v":-0.25},{"t":8.205,"v":0.32},{"t":8.225,"v":1.296},{"t":8.234,"v":0.595},{"t":8.245,"v":-0.3},{"t":8.255,"v":-0.06},{"t":8.268,"v":-0.19},{"t":8.288,"v":-0.14},{"t":8.306,"v":-0.155},{"t":8.327,"v":-0.115},{"t":8.345,"v":-0.1},{"t":8.367,"v":0.01},{"t":8.39,"v":0.076},{"t":8.417,"v":0.117},{"t":8.444,"v":0.15},{"t":8.475,"v":0.1},{"t":8.498,"v":-0.05},{"t":8.516,"v":-0.11},{"t":8.539,"v":-0.06},{"t":8.565,"v":0.036},{"t":8.582,"v":-0.02},{"t":8.606,"v":-0.14},{"t":8.629,"v":-0.175},{"t":8.647,"v":-0.155},{"t":8.665,"v":-0.245},{"t":8.68,"v":0.32},{"t":8.696,"v":1.255},{"t":8.705,"v":0.595},{"t":8.714,"v":-0.24},{"t":8.727,"v":-0.12},{"t":8.741,"v":-0.14},{"t":8.759,"v":-0.19},{"t":8.781,"v":-0.17},{"t":8.804,"v":-0.14},{"t":8.822,"v":-0.11},{"t":8.845,"v":-0.06},{"t":8.863,"v":0.05},{"t":8.885,"v":0.08},{"t":8.903,"v":0.145},{"t":8.93,"v":0.145},{"t":8.957,"v":0.05},{"t":8.975,"v":-0.22},{"t":8.989,"v":-0.005},{"t":9.002,"v":0.063},{"t":9.02,"v":0.036},{"t":9.043,"v":0.11},{"t":9.065,"v":0.0},{"t":9.083,"v":-0.13},{"t":9.104,"v":-0.165},{"t":9.122,"v":-0.21},{"t":9.133,"v":-0.29},{"t":9.146,"v":0.32},{"t":9.16,"v":1.149},{"t":9.169,"v":0.595},{"t":9.178,"v":-0.265},{"t":9.19,"v":-0.09},{"t":9.208,"v":-0.19},{"t":9.235,"v":-0.17},{"t":9.254,"v":-0.2},{"t":9.28,"v":-0.135},{"t":9.307,"v":-0.03},{"t":9.334,"v":0.02},{"t":9.361,"v":0.09},{"t":9.403,"v":0.117},{"t":9.424,"v":0.0},{"t":9.451,"v":-0.02},{"t":9.475,"v":0.09},{"t":9.496,"v":0.13},{"t":9.514,"v":0.063},{"t":9.532,"v":-0.06},{"t":9.554,"v":-0.135},{"t":9.565,"v":-0.1},{"t":9.583,"v":-0.265},{"t":9.595,"v":0.32},{"t":9.613,"v":1.236},{"t":9.622,"v":0.595},{"t":9.633,"v":-0.2},{"t":9.649,"v":-0.02},{"t":9.662,"v":-0.19},{"t":9.685,"v":-0.14},{"t":9.707,"v":-0.1},{"t":9.721,"v":-0.2},{"t":9.739,"v":-0.13},{"t":9.757,"v":-0.14},{"t":9.775,"v":-0.005},{"t":9.793,"v":0.02},{"t":9.815,"v":0.13},{"t":9.838,"v":0.117},{"t":9.865,"v":0.117},{"t":9.883,"v":0.036},{"t":9.906,"v":-0.06},{"t":9.928,"v":0.01},{"t":9.951,"v":0.11},{"t":9.969,"v":-0.03},{"t":9.99,"v":-0.175},{"t":10.0,"v":-0.18}
    ]
  },
  "vconcat": [
    {
      "width": 3546,
      "height": 479,
      "title": {"text": "(a) Electrocardiogram", "frame": "group", "anchor": "middle", "offset": 25},
      "encoding": {
        "x": {"field": "t", "type": "quantitative", "scale": {"domain": [0, 10], "nice": false, "zero": false}, "axis": null},
        "y": {
          "field": "v", "type": "quantitative",
          "scale": {"domain": [-1.3, 2.256], "nice": false, "zero": false},
          "axis": {"values": [-1, 0, 1, 2], "title": "ECG (mV)", "titlePadding": 38}
        }
      },
      "layer": [
        {
          "data": {"name": "original"},
          "mark": {"type": "line", "strokeWidth": 7, "strokeJoin": "round"},
          "encoding": {
            "color": {
              "datum": "Original", "type": "nominal",
              "scale": {"domain": ["Original", "Baseline wander"], "range": ["#000000", "#ffa500"]},
              "legend": {"orient": "none", "legendX": 1518, "legendY": 23, "title": " ", "titleOrient": "right", "titleFontSize": 1, "titlePadding": 62, "padding": 14, "rowPadding": 21, "labelOffset": 35}
            }
          }
        },
        {
          "data": {"name": "baseline"},
          "mark": {"type": "line", "strokeWidth": 7, "strokeJoin": "round"},
          "encoding": {"color": {"datum": "Baseline wander", "type": "nominal"}}
        }
      ]
    },
    {
      "width": 3546,
      "height": 479,
      "data": {"name": "filtered"},
      "mark": {"type": "line", "strokeWidth": 7, "strokeJoin": "round"},
      "encoding": {
        "x": {
          "field": "t", "type": "quantitative",
          "scale": {"domain": [0, 10], "nice": false, "zero": false},
          "axis": {"values": [0, 2, 4, 6, 8, 10], "title": "t (sec)", "titlePadding": 21}
        },
        "y": {
          "field": "v", "type": "quantitative",
          "scale": {"domain": [-0.715, 2.185], "nice": false, "zero": false},
          "axis": {"values": [0, 1, 2], "title": "ECG (mV)", "titlePadding": 30}
        },
        "color": {
          "datum": "Filtered", "type": "nominal",
          "scale": {"domain": ["Filtered"], "range": ["#000000"]},
          "legend": {"orient": "none", "legendX": 3189, "legendY": 21, "title": " ", "titleOrient": "right", "titleFontSize": 1, "titlePadding": 24, "padding": 17, "labelOffset": 37}
        }
      }
    }
  ],
  "resolve": {"scale": {"color": "independent"}, "legend": {"color": "independent"}},
  "config": {
    "font": "Liberation Serif",
    "view": {"stroke": "#262626", "strokeWidth": 6},
    "axis": {
      "domain": false, "grid": false,
      "tickColor": "#262626", "tickWidth": 6, "tickSize": 32,
      "labelColor": "#262626", "labelFont": "Liberation Serif", "labelFontSize": 46, "labelPadding": 22, "labelFlush": false,
      "titleColor": "#262626", "titleFont": "Liberation Serif", "titleFontSize": 52, "titleFontWeight": "normal"
    },
    "title": {"font": "Liberation Serif", "fontSize": 60, "fontWeight": "normal", "color": "#262626"},
    "legend": {
      "symbolType": "stroke", "symbolSize": 9400, "symbolStrokeWidth": 8, "clipHeight": 44,
      "labelFont": "Liberation Serif", "labelFontSize": 44, "labelColor": "#262626", "labelLimit": 0,
      "strokeColor": "#cccccc", "strokeWidth": 4.5, "fillColor": "white", "cornerRadius": 8
    }
  }
}
